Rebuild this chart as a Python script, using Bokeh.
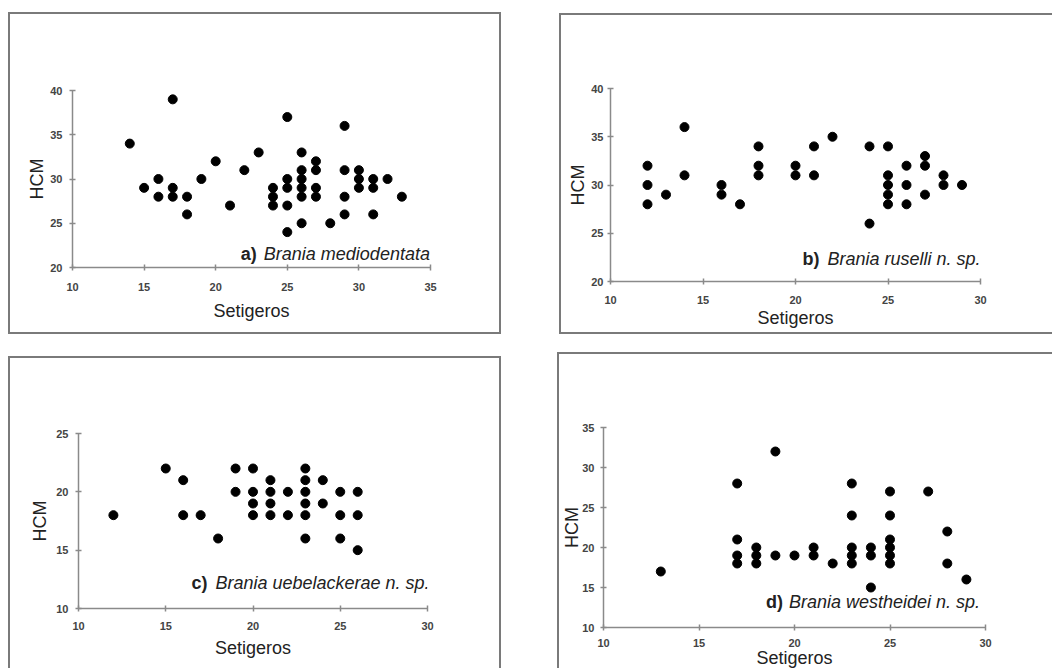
from bokeh.plotting import figure
from bokeh.models import FixedTicker, Label, Range1d
from bokeh.embed import file_html
from bokeh.resources import INLINE

# ---------------- data ----------------
# a) Brania mediodentata
a_setigeros = [14, 15, 16, 16, 17, 17, 17, 18, 18, 19, 20, 21, 22, 23,
               24, 24, 24, 25, 25, 25, 25, 25, 26, 26, 26, 26, 26, 26,
               27, 27, 27, 27, 28, 29, 29, 29, 29, 30, 30, 30, 31, 31, 31, 32, 33]
a_hcm = [34, 29, 30, 28, 39, 29, 28, 28, 26, 30, 32, 27, 31, 33,
         29, 28, 27, 37, 30, 29, 27, 24, 33, 31, 30, 29, 28, 25,
         32, 31, 29, 28, 25, 36, 31, 28, 26, 31, 30, 29, 30, 29, 26, 30, 28]

# b) Brania ruselli n. sp.
b_setigeros = [12, 12, 12, 13, 14, 14, 16, 16, 17, 18, 18, 18, 20, 20, 21, 21, 22,
               24, 24, 25, 25, 25, 25, 25, 26, 26, 26, 27, 27, 27, 28, 28, 29]
b_hcm = [32, 30, 28, 29, 36, 31, 30, 29, 28, 34, 32, 31, 32, 31, 34, 31, 35,
         34, 26, 34, 31, 30, 29, 28, 32, 30, 28, 33, 32, 29, 31, 30, 30]

# c) Brania uebelackerae n. sp.
c_setigeros = [12, 15, 16, 16, 17, 18, 19, 19, 20, 20, 20, 20, 21, 21, 21, 21,
               22, 22, 23, 23, 23, 23, 23, 23, 24, 24, 25, 25, 25, 26, 26, 26]
c_hcm = [18, 22, 21, 18, 18, 16, 22, 20, 22, 20, 19, 18, 21, 20, 19, 18,
         20, 18, 22, 21, 20, 19, 18, 16, 21, 19, 20, 18, 16, 20, 18, 15]

# d) Brania westheidei n. sp.
d_setigeros = [13, 17, 17, 17, 17, 18, 18, 18, 19, 19, 20, 21, 21, 22,
               23, 23, 23, 23, 23, 24, 24, 24, 25, 25, 25, 25, 25, 25, 27, 28, 28, 29]
d_hcm = [17, 28, 21, 19, 18, 20, 19, 18, 32, 19, 19, 20, 19, 18,
         28, 24, 20, 19, 18, 20, 19, 15, 27, 24, 21, 20, 19, 18, 27, 22, 18, 16]

x_label = "Setigeros"
y_label = "HCM"

FONT = "Liberation Sans"
AXIS_COL = "#8a8a8a"
BORDER = "2px solid #7a7a7a"


def panel(xs, ys, xr, yr, xticks, yticks, box, mb, stand, prefix, species,
          lab_pos, sides):
    left, top, w, h = box
    p = figure(width=w, height=h, output_backend="svg", toolbar_location=None,
               x_range=Range1d(*xr), y_range=Range1d(*yr),
               min_border_left=mb[0], min_border_right=mb[1],
               min_border_top=mb[2], min_border_bottom=mb[3])
    p.outline_line_color = None
    p.grid.visible = False
    p.background_fill_color = "white"
    p.border_fill_color = "white"
    css = {"position": "absolute", "left": f"{left}px", "top": f"{top}px",
           "box-sizing": "border-box"}
    for s in sides:
        css[f"border-{s}"] = BORDER
    p.styles = css

    p.xaxis.ticker = FixedTicker(ticks=xticks)
    p.yaxis.ticker = FixedTicker(ticks=yticks)
    for ax in (p.xaxis[0], p.yaxis[0]):
        ax.axis_line_color = AXIS_COL
        ax.axis_line_width = 1.5
        ax.major_tick_line_color = AXIS_COL
        ax.major_tick_line_width = 1.5
        ax.major_tick_in = 3
        ax.major_tick_out = 3
        ax.minor_tick_line_color = None
        ax.major_label_text_font = FONT
        ax.major_label_text_font_size = "11px"
        ax.major_label_text_font_style = "bold"
        ax.major_label_text_color = "#444444"
        ax.axis_label_text_font = FONT
        ax.axis_label_text_font_size = "18px"
        ax.axis_label_text_font_style = "normal"
        ax.axis_label_text_color = "#222222"
    p.xaxis.axis_label = x_label
    p.yaxis.axis_label = y_label
    p.xaxis.major_label_standoff = stand[0]
    p.xaxis.axis_label_standoff = stand[1]
    p.yaxis.major_label_standoff = stand[2]
    p.yaxis.axis_label_standoff = stand[3]

    p.scatter(xs, ys, marker="circle", size=9, fill_color="black",
              line_color="black")

    px, sx, ly = lab_pos
    p.add_layout(Label(x=px, y=ly, text=prefix, text_font=FONT,
                       text_font_size="18px", text_font_style="bold",
                       text_baseline="middle", text_align="left",
                       text_color="#222222"))
    p.add_layout(Label(x=sx, y=ly, text=species, text_font=FONT,
                       text_font_size="18px", text_font_style="italic",
                       text_baseline="middle", text_align="left",
                       text_color="#222222"))
    return p


pa = panel(a_setigeros, a_hcm, (10, 35), (20, 40), [10, 15, 20, 25, 30, 35],
           [20, 25, 30, 35, 40], (8, 12, 493, 322), (62, 73, 76, 69),
           (12, 7, 7, 0), "a)", "Brania mediodentata", (21.75, 23.36, 21.58),
           ["top", "left", "right", "bottom"])
pb = panel(b_setigeros, b_hcm, (10, 30), (20, 40), [10, 15, 20, 25, 30],
           [20, 25, 30, 35, 40], (559, 13, 493, 321), (49, 74, 73, 55),
           (11, 1, 4, 0), "b)", "Brania ruselli n. sp.", (20.38, 21.73, 22.28),
           ["top", "left", "bottom"])
pc = panel(c_setigeros, c_hcm, (10, 30), (10, 25), [10, 15, 20, 25, 30],
           [10, 15, 20, 25], (8, 356, 493, 312), (68, 76, 75, 62),
           (10, 5, 7, 3), "c)", "Brania uebelackerae n. sp.", (16.48, 17.85, 12.15),
           ["top", "left", "right"])
pd_ = panel(d_setigeros, d_hcm, (10, 30), (10, 35), [10, 15, 20, 25, 30],
            [10, 15, 20, 25, 30, 35], (557, 352, 495, 316), (43, 69, 73, 43),
            (8, -2, 6, -3), "d)", "Brania westheidei n. sp.", (18.51, 19.71, 13.13),
            ["top", "left"])

open("out.html", "w").write(file_html([pa, pb, pc, pd_], INLINE))
